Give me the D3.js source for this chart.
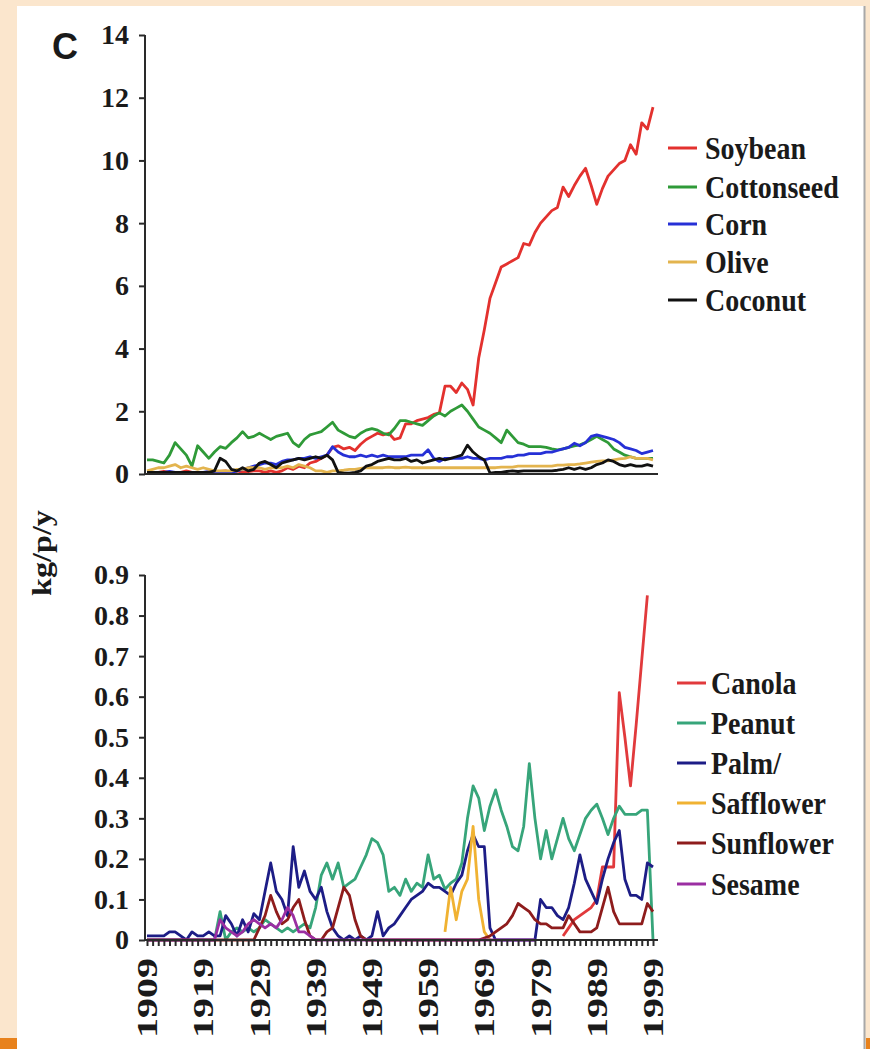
<!DOCTYPE html>
<html>
<head>
<meta charset="utf-8">
<script src="https://cdnjs.cloudflare.com/ajax/libs/d3/7.8.5/d3.min.js"></script>
<style>
body{margin:0;background:#fbe6cd;}
svg{display:block;}
text{font-family:"Liberation Serif","Times New Roman",serif;font-weight:bold;fill:#1a1a1a;}
.axis path,.axis line{stroke:#2a2a2a;stroke-width:2;}
</style>
</head>
<body>
<div id="canvas"></div>
<script>
// oil use per person, 1909-1999 (one value per year)
var firstYear = 1909;

// upper panel, kg/p/y
var soybean = [0.05,0.03,0.05,0.08,0.05,0.03,0.05,0.1,0.05,0.05,
  0.03,0.05,0.05,0.08,0.1,0.05,0.1,0.05,0.08,0.1,
  0.1,0.05,0.1,0.05,0.1,0.2,0.15,0.25,0.2,0.35,
  0.4,0.5,0.6,0.85,0.9,0.8,0.85,0.75,0.95,1.1,
  1.2,1.3,1.25,1.3,1.1,1.15,1.6,1.6,1.7,1.75,
  1.8,1.9,1.95,2.8,2.8,2.6,2.9,2.7,2.2,3.7,
  4.6,5.6,6.1,6.6,6.7,6.8,6.9,7.35,7.3,7.7,
  8.0,8.2,8.4,8.5,9.15,8.85,9.2,9.5,9.75,9.2,
  8.6,9.1,9.5,9.7,9.9,10.0,10.5,10.2,11.2,11.0,
  11.7];
var cottonseed = [0.45,0.45,0.4,0.35,0.6,1.0,0.8,0.6,0.25,0.9,
  0.7,0.5,0.7,0.87,0.82,1.0,1.15,1.35,1.15,1.2,
  1.3,1.2,1.1,1.2,1.25,1.3,1.0,0.87,1.1,1.25,
  1.3,1.35,1.5,1.65,1.4,1.3,1.2,1.15,1.3,1.4,
  1.45,1.4,1.3,1.25,1.45,1.7,1.7,1.65,1.6,1.55,
  1.7,1.85,1.95,1.85,2.0,2.1,2.2,2.0,1.75,1.5,
  1.4,1.3,1.15,1.0,1.4,1.2,1.0,0.95,0.87,0.87,
  0.87,0.85,0.8,0.77,0.8,0.85,0.9,0.93,1.0,1.1,
  1.2,1.1,1.0,0.8,0.7,0.6,0.55,0.5,0.5,0.5,
  0.5];
var corn = [0.05,0.03,0.05,0.05,0.08,0.05,0.05,0.03,0.05,0.05,
  0.05,0.08,0.05,0.05,0.05,0.05,0.1,0.15,0.2,0.25,
  0.3,0.35,0.35,0.3,0.4,0.45,0.45,0.5,0.5,0.55,
  0.5,0.55,0.6,0.87,0.7,0.6,0.55,0.55,0.6,0.55,
  0.6,0.55,0.6,0.55,0.55,0.55,0.55,0.6,0.6,0.6,
  0.77,0.5,0.4,0.5,0.5,0.5,0.5,0.55,0.5,0.5,
  0.45,0.5,0.5,0.5,0.55,0.55,0.6,0.6,0.65,0.65,
  0.65,0.7,0.7,0.75,0.8,0.85,0.98,0.9,1.0,1.2,
  1.25,1.2,1.15,1.1,1.0,0.85,0.8,0.75,0.65,0.7,
  0.75];
var olive = [0.1,0.15,0.2,0.2,0.25,0.3,0.2,0.25,0.2,0.15,
  0.2,0.15,0.1,0.1,0.1,0.1,0.15,0.15,0.2,0.2,
  0.2,0.15,0.2,0.2,0.2,0.25,0.2,0.3,0.25,0.2,
  0.1,0.1,0.05,0.1,0.1,0.12,0.15,0.15,0.18,0.2,
  0.2,0.2,0.2,0.22,0.2,0.2,0.22,0.2,0.2,0.2,
  0.2,0.2,0.2,0.2,0.2,0.2,0.2,0.2,0.2,0.2,
  0.2,0.2,0.2,0.22,0.22,0.22,0.25,0.25,0.25,0.25,
  0.25,0.25,0.25,0.28,0.28,0.3,0.3,0.32,0.35,0.38,
  0.4,0.42,0.42,0.45,0.48,0.5,0.55,0.5,0.5,0.5,
  0.45];
var coconut = [0.05,0.05,0.05,0.05,0.05,0.05,0.05,0.05,0.05,0.05,
  0.05,0.05,0.1,0.5,0.4,0.15,0.1,0.2,0.1,0.15,
  0.35,0.4,0.3,0.2,0.35,0.4,0.45,0.5,0.45,0.5,
  0.55,0.5,0.6,0.45,0.05,0.03,0.03,0.05,0.1,0.25,
  0.3,0.4,0.45,0.5,0.45,0.45,0.5,0.4,0.45,0.35,
  0.4,0.45,0.5,0.45,0.5,0.55,0.6,0.92,0.7,0.55,
  0.45,0.03,0.05,0.05,0.08,0.1,0.08,0.1,0.1,0.1,
  0.1,0.1,0.1,0.12,0.15,0.2,0.15,0.2,0.15,0.2,
  0.3,0.35,0.45,0.4,0.3,0.25,0.3,0.25,0.25,0.3,
  0.25];

// lower panel, kg/p/y (null = no line drawn)
var canola = [null,null,null,null,null,null,null,null,null,null,
  null,null,null,null,null,null,null,null,null,null,
  null,null,null,null,null,null,null,null,null,null,
  null,null,null,null,null,null,null,null,null,null,
  null,null,null,null,null,null,null,null,null,null,
  null,null,null,null,null,null,null,null,null,null,
  null,null,null,null,null,null,null,null,null,null,
  null,null,null,null,0.01,0.03,0.05,0.06,0.07,0.08,
  0.1,0.18,0.18,0.18,0.61,0.5,0.38,0.53,0.69,0.85,
  null].slice(0,91);
var peanut = [0,0,0,0,0,0,0,0,0,0,
  0,0,0,0.07,0,0.02,0.03,0.02,0.03,0.02,
  0.03,0.05,0.04,0.03,0.02,0.03,0.02,0.03,0.04,0.03,
  0.08,0.16,0.19,0.15,0.19,0.13,0.14,0.15,0.18,0.21,
  0.25,0.24,0.21,0.12,0.13,0.11,0.15,0.12,0.14,0.13,
  0.21,0.15,0.16,0.125,0.14,0.15,0.19,0.3,0.38,0.35,
  0.27,0.33,0.37,0.32,0.28,0.23,0.22,0.28,0.435,0.3,
  0.2,0.27,0.2,0.25,0.3,0.25,0.22,0.26,0.3,0.32,
  0.335,0.3,0.26,0.3,0.33,0.31,0.31,0.31,0.32,0.32,
  0];
var palm = [0.01,0.01,0.01,0.01,0.02,0.02,0.01,0,0.02,0.01,
  0.01,0.02,0.01,0.01,0.06,0.04,0.01,0.05,0.02,0.065,
  0.05,0.12,0.19,0.12,0.1,0.06,0.23,0.13,0.17,0.12,
  0.1,0.13,0.07,0.03,0.01,0,0.01,0,0.01,0,
  0.01,0.07,0.01,0.03,0.04,0.06,0.08,0.1,0.11,0.12,
  0.14,0.13,0.13,0.12,0.11,0.14,0.16,0.22,0.26,0.23,
  0.23,0.03,0,0,0,0,0,0,0,0,
  0.1,0.08,0.08,0.06,0.05,0.08,0.14,0.21,0.15,0.12,
  0.09,0.15,0.2,0.24,0.27,0.15,0.11,0.11,0.1,0.19,
  0.18];
var safflower = [null,null,null,null,null,null,null,null,null,null,
  null,null,null,null,null,null,null,null,null,null,
  null,null,null,null,null,null,null,null,null,null,
  null,null,null,null,null,null,null,null,null,null,
  null,null,null,null,null,null,null,null,null,null,
  null,null,null,0.02,0.13,0.05,0.12,0.15,0.28,0.1,
  0.02,0,null,null,null,null,null,null,null,null,
  null,null,null,null,null,null,null,null,null,null,
  null,null,null,null,null,null,null,null,null,null,
  null];
var sunflower = [0,0,0,0,0,0,0,0,0,0,
  0,0,0,0,0,0,0,0,0,0,
  0.03,0.06,0.11,0.07,0.04,0.05,0.08,0.1,0.05,0.01,
  0,0,0.02,0.03,0.08,0.13,0.11,0.05,0.01,0,
  0,0,0,0,0,0,0,0,0,0,
  0,0,0,0,0,0,0,0,0,0,
  0.005,0.01,0.02,0.03,0.04,0.06,0.09,0.08,0.07,0.05,
  0.04,0.04,0.03,0.03,0.03,0.06,0.04,0.02,0.02,0.02,
  0.03,0.08,0.13,0.07,0.04,0.04,0.04,0.04,0.04,0.09,
  0.07];
var sesame = [0,0,0,0,0,0,0,0,0,0,
  0,0,0,0.05,0.03,0.02,0.01,0.02,0.04,0.05,
  0.04,0.03,0.04,0.03,0.05,0.08,0.06,0.02,0.02,0.01,
  0,0,0,0,0,0,0,0,0,0,
  0,0,0,0,0,0,0,0,0,0,
  0,0,0,0,0,0,0,0,0,0,
  0,0,0,0,0,0,0,0,0,0,
  null,null,null,null,null,null,null,null,null,null,
  null,null,null,null,null,null,null,null,null,null,
  null];

var topTicks = [0,2,4,6,8,10,12,14];
var bottomTicks = [0,0.1,0.2,0.3,0.4,0.5,0.6,0.7,0.8,0.9];
var yearLabels = [1909,1919,1929,1939,1949,1959,1969,1979,1989,1999];

var topSeries = [
  {name:'Soybean', values:soybean, color:'#e3312e'},
  {name:'Cottonseed', values:cottonseed, color:'#2f9a38'},
  {name:'Corn', values:corn, color:'#2630d6'},
  {name:'Olive', values:olive, color:'#e3b44e'},
  {name:'Coconut', values:coconut, color:'#111111'}
];
var bottomSeries = [
  {name:'Canola', values:canola, color:'#e13a3c'},
  {name:'Peanut', values:peanut, color:'#37a57a'},
  {name:'Palm/', values:palm, color:'#1d1d86'},
  {name:'Safflower', values:safflower, color:'#f0b232'},
  {name:'Sunflower', values:sunflower, color:'#8e1c1c'},
  {name:'Sesame', values:sesame, color:'#9b2fa2'}
];

var W = 870, H = 1049;
var svg = d3.select('#canvas').append('svg')
    .attr('width',W)
    .attr('height',H);

// page frame
svg.append('rect').attr('x',17).attr('y',6).attr('width',848).attr('height',H-6).attr('fill','#fff');
svg.append('line').attr('x1',864.5).attr('x2',864.5).attr('y1',6).attr('y2',H).attr('stroke','#a8a8a8').attr('stroke-width',2);
svg.append('rect').attr('x',0).attr('y',1038).attr('width',17).attr('height',11).attr('fill','#e8821c');
svg.append('rect').attr('x',866).attr('y',1038).attr('width',4).attr('height',11).attr('fill','#e8821c');

var scaleX = d3.scaleLinear().domain([1909,1999]).range([147,653]);
var yTop = d3.scaleLinear().domain([0,14]).range([474,35]);
var yBot = d3.scaleLinear().domain([0,0.9]).range([940,575]);

function toPoints(vals){
  return vals.map(function(v,i){ return {year:firstYear+i, v:v}; });
}

function drawPanel(series, scaleY, ticks, fmt){
  var g = svg.append('g');

  var axisY = d3.axisLeft(scaleY)
      .tickValues(ticks)
      .tickSize(6)
      .tickPadding(10)
      .tickFormat(fmt);
  var ay = g.append('g')
      .attr('class','axis')
      .attr('transform','translate(145,0)')
      .call(axisY);
  ay.select('.domain').attr('d','M0,'+scaleY(ticks[ticks.length-1])+'V'+scaleY(0));
  ay.selectAll('text')
      .attr('font-size',28)
      .style('font-family','"Liberation Serif","Times New Roman",serif')
      .style('font-weight','bold')
      .attr('fill','#1a1a1a');

  var line = d3.line()
      .defined(function(d){ return d.v !== null; })
      .x(function(d){ return scaleX(d.year); })
      .y(function(d){ return scaleY(d.v); });

  g.selectAll('.series')
      .data(series)
      .enter()
      .append('path')
      .attr('class','series')
      .attr('d',function(d){ return line(toPoints(d.values)); })
      .attr('fill','none')
      .attr('stroke',function(d){ return d.color; })
      .attr('stroke-width',2.8)
      .attr('stroke-linejoin','round');
  return g;
}

var topG = drawPanel(topSeries, yTop, topTicks, d3.format('d'));
topG.append('line')
    .attr('x1',145).attr('x2',658)
    .attr('y1',yTop(0)).attr('y2',yTop(0))
    .attr('stroke','#2a2a2a').attr('stroke-width',2);

var botG = drawPanel(bottomSeries, yBot, bottomTicks, function(d){ return d===0 ? '0' : d3.format('.1f')(d); });

// year axis for lower panel: a tick every year, a label every ten
var years = soybean.map(function(v,i){ return firstYear+i; });
var axisX = d3.axisBottom(scaleX)
    .tickValues(years)
    .tickSize(6)
    .tickFormat('');
var ax = botG.append('g')
    .attr('class','axis')
    .attr('transform','translate(0,'+yBot(0)+')')
    .call(axisX);
ax.select('.domain').attr('d','M145,0H658');
ax.selectAll('line').attr('stroke-width',1.5);

botG.selectAll('.yearLabel')
    .data(yearLabels)
    .enter()
    .append('text')
    .attr('class','yearLabel')
    .attr('transform',function(d){ return 'translate('+scaleX(d)+',958) rotate(-90) scale(1.38,1)'; })
    .attr('text-anchor','end')
    .attr('dy','0.35em')
    .attr('font-size',29)
    .text(function(d){ return d; });

// legends
function drawLegend(series, x0, textX, rows){
  var lg = svg.append('g').selectAll('g')
      .data(series)
      .enter()
      .append('g')
      .attr('transform',function(d,i){ return 'translate('+x0+','+rows[i]+')'; });
  lg.append('line')
      .attr('x1',0).attr('x2',29)
      .attr('stroke',function(d){ return d.color; })
      .attr('stroke-width',3);
  lg.append('text')
      .attr('transform','translate('+textX+',0) scale(1,1.15)')
      .attr('dy','0.35em')
      .attr('font-size',28)
      .text(function(d){ return d.name; });
}
drawLegend(topSeries, 668, 37, [148,187,224,262,300]);
drawLegend(bottomSeries, 677, 34, [683,723,763,803,843,884]);

// axis title and panel letter
svg.append('text')
    .attr('transform','translate(41,553) rotate(-90) scale(1.15,1)')
    .attr('text-anchor','middle')
    .attr('dy','0.35em')
    .attr('font-size',28)
    .text('kg/p/y');

svg.append('text')
    .attr('x',52).attr('y',59)
    .style('font-family','"Liberation Sans",Arial,sans-serif')
    .attr('font-size',36)
    .text('C');
</script>
</body>
</html>
